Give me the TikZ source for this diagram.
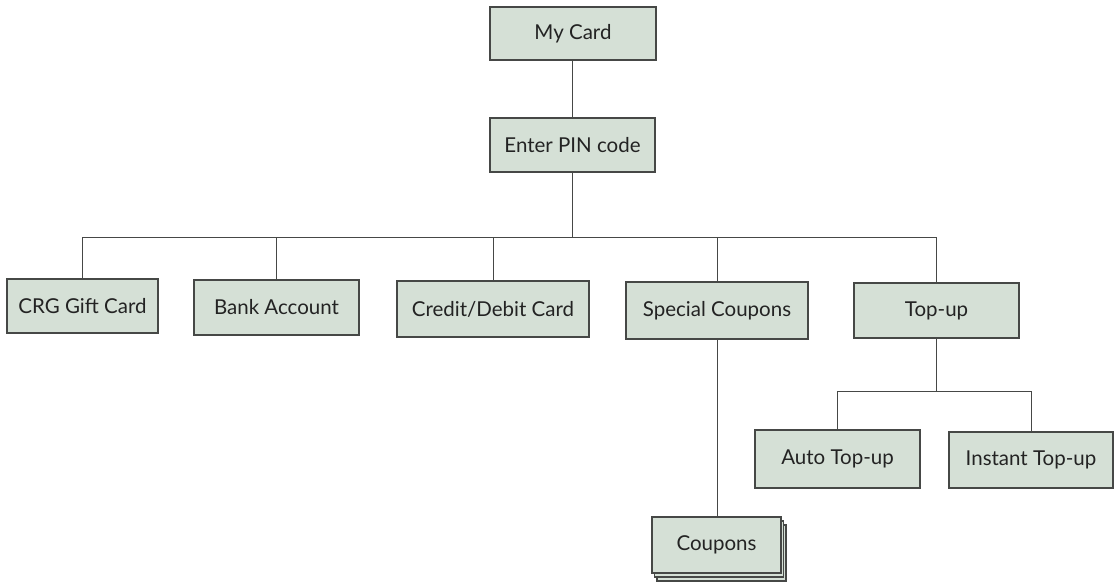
\documentclass[tikz,border=0pt]{standalone}
\usepackage{fontspec}
\setmainfont{Lato}
\definecolor{boxfill}{RGB}{213,224,214}
\definecolor{boxline}{RGB}{70,72,70}
\definecolor{txt}{RGB}{35,35,35}
\tikzset{
  menubox/.style={draw=boxline, line width=1.1pt, fill=boxfill, text=txt,
    inner sep=0pt, font=\fontsize{20.5}{24}\selectfont},
  link/.style={draw=boxline, line width=0.9pt}
}
\begin{document}
\begin{tikzpicture}[x=1pt,y=-1pt]
\useasboundingbox (0,0) rectangle (1118,581);
\clip (0,0) rectangle (1118,581);
\fill[white] (0,0) rectangle (1118,581);

% top level
\node[menubox, minimum width=166, minimum height=53] (card) at (573,33.5) {My Card};
\node[menubox, minimum width=165, minimum height=54] (pin) at (572.5,145) {Enter PIN code};

% second level
\node[menubox, minimum width=151, minimum height=54] (gift) at (82.5,306) {CRG Gift Card};
\node[menubox, minimum width=165, minimum height=55] (bank) at (276.5,307.5) {Bank Account};
\node[menubox, minimum width=192, minimum height=56] (credit) at (493,309) {Credit/Debit Card};
\node[menubox, minimum width=182, minimum height=57] (special) at (717,310.5) {Special Coupons};
\node[menubox, minimum width=165, minimum height=55] (topup) at (936.5,310.5) {Top-up};

% top-up options
\node[menubox, minimum width=165, minimum height=58] (auto) at (837.5,459) {Auto Top-up};
\node[menubox, minimum width=164, minimum height=56] (instant) at (1031,460) {Instant Top-up};

% stacked coupon pages
\node[menubox, minimum width=129, minimum height=56] (coupons3) at (721.5,553) {};
\node[menubox, minimum width=129, minimum height=56] (coupons2) at (719,549) {};
\node[menubox, minimum width=129, minimum height=56] (coupons) at (716.5,545) {Coupons};

% connectors
\coordinate (bus) at (0,237);
\coordinate (tbus) at (0,391);
\draw[link] (card.south) -- (pin.south |- card.south) -- (pin.north);
\draw[link] (pin.south) -- (pin.south |- bus);
\draw[link] (gift.north) |- (pin.south |- bus);
\draw[link] (bank.north) |- (pin.south |- bus);
\draw[link] (credit.north) |- (pin.south |- bus);
\draw[link] (special.north) |- (pin.south |- bus);
\draw[link] (topup.north) |- (pin.south |- bus);
\draw[link] (special.south) -- (special.south |- coupons.north);
\draw[link] (topup.south) -- (topup.south |- tbus);
\draw[link] (auto.north) |- (topup.south |- tbus);
\draw[link] (instant.north) |- (topup.south |- tbus);
\end{tikzpicture}
\end{document}
